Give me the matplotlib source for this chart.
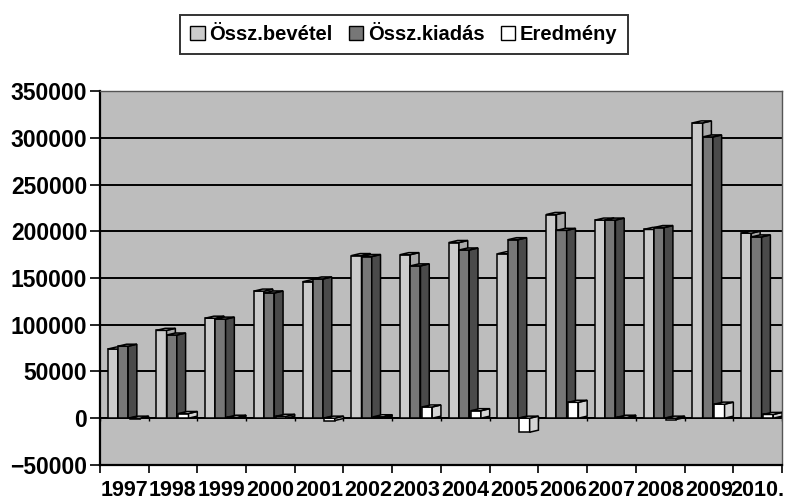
import numpy as np
import matplotlib
matplotlib.use('Agg')
import matplotlib.pyplot as plt
from matplotlib.patches import Polygon, Patch

plt.rcParams['font.family'] = ['Liberation Sans', 'DejaVu Sans']
plt.rcParams['font.weight'] = 'bold'

years = ['1997', '1998', '1999', '2000', '2001', '2002', '2003',
         '2004', '2005', '2006', '2007', '2008', '2009', '2010.']
bevetel = [74000, 94000, 107000, 136000, 146000, 174000, 175000,
           188000, 176000, 218000, 212000, 202000, 316000, 198000]
kiadas = [77000, 89000, 106000, 134000, 149000, 173000, 163000,
          180000, 191000, 201000, 212000, 204000, 301000, 194000]
eredmeny = [-500, 5000, 1000, 2000, -2500, 1500, 12000,
            8000, -15000, 17000, 1000, -1500, 15000, 4000]
series = [('Össz.bevétel', bevetel, '#cbcbcb', '#a9a9a9'),
          ('Össz.kiadás', kiadas, '#777777', '#4a4a4a'),
          ('Eredmény', eredmeny, '#ffffff', '#d4d4d4')]
offsets = [0.16, 0.37, 0.61]
w = 0.21    # front face width
d = 0.18    # depth, x direction
dy = 2200   # depth, y direction

fig = plt.figure(figsize=(7.86, 5.01), dpi=100)
ax = fig.add_axes([0.127, 0.072, 0.868, 0.746])
ax.set_facecolor('#bdbdbd')

x = np.arange(len(years))
for (name, vals, front, side), off in zip(series, offsets):
    for xi, h in zip(x, vals):
        x0 = xi - 0.5 + off
        # front face
        ax.bar(x0, h, width=w, align='edge', color=front, edgecolor='black', linewidth=1.1, zorder=3)
        # side and top faces for a 3D look
        top = max(h, 0)
        ax.add_patch(Polygon([(x0 + w, min(h, 0)), (x0 + w + d, min(h, 0) + dy),
                              (x0 + w + d, top + dy), (x0 + w, top)],
                             closed=True, facecolor=side, edgecolor='black', linewidth=1.1, zorder=3))
        ax.add_patch(Polygon([(x0, top), (x0 + w, top), (x0 + w + d, top + dy), (x0 + d, top + dy)],
                             closed=True, facecolor=front, edgecolor='black', linewidth=1.1, zorder=3))

ax.set_xlim(-0.5, len(years) - 0.5)
ax.set_ylim(-50000, 350000)
ax.set_yticks(np.arange(-50000, 350001, 50000))
ax.yaxis.grid(True, color='black', linewidth=1.4, zorder=1)
ax.set_axisbelow(True)
ax.axhline(0, color='black', linewidth=1.4, zorder=2)
bounds = np.arange(len(years) + 1) - 0.5
ax.vlines(bounds, -3500, 0, color='black', linewidth=1.0, zorder=2)

ax.set_xticks(x)
ax.set_xticklabels(years)
ax.set_xticks(bounds, minor=True)
ax.tick_params(axis='x', which='major', length=0, pad=11, labelsize=15.5)
ax.tick_params(axis='x', which='minor', length=6, width=1.2, direction='out')
ax.tick_params(axis='y', length=7, width=1.2, labelsize=16.5, pad=2)
for s in ['top', 'right']:
    ax.spines[s].set_linewidth(1.0)
    ax.spines[s].set_color('#555555')
for s in ['left', 'bottom']:
    ax.spines[s].set_linewidth(1.6)

handles = [Patch(facecolor=f, edgecolor='black', linewidth=1.0) for _, _, f, _ in series]
leg = fig.legend(handles, [s[0] for s in series], loc='upper center', bbox_to_anchor=(0.514, 0.99),
                 ncol=3, frameon=True, fancybox=False, edgecolor='black',
                 handlelength=0.7, handleheight=0.7, handletextpad=0.25, columnspacing=0.8,
                 borderpad=0.5, prop={'weight': 'bold', 'size': 14.5})
leg.get_frame().set_linewidth(1.4)

fig.savefig('out.png', dpi=100)
